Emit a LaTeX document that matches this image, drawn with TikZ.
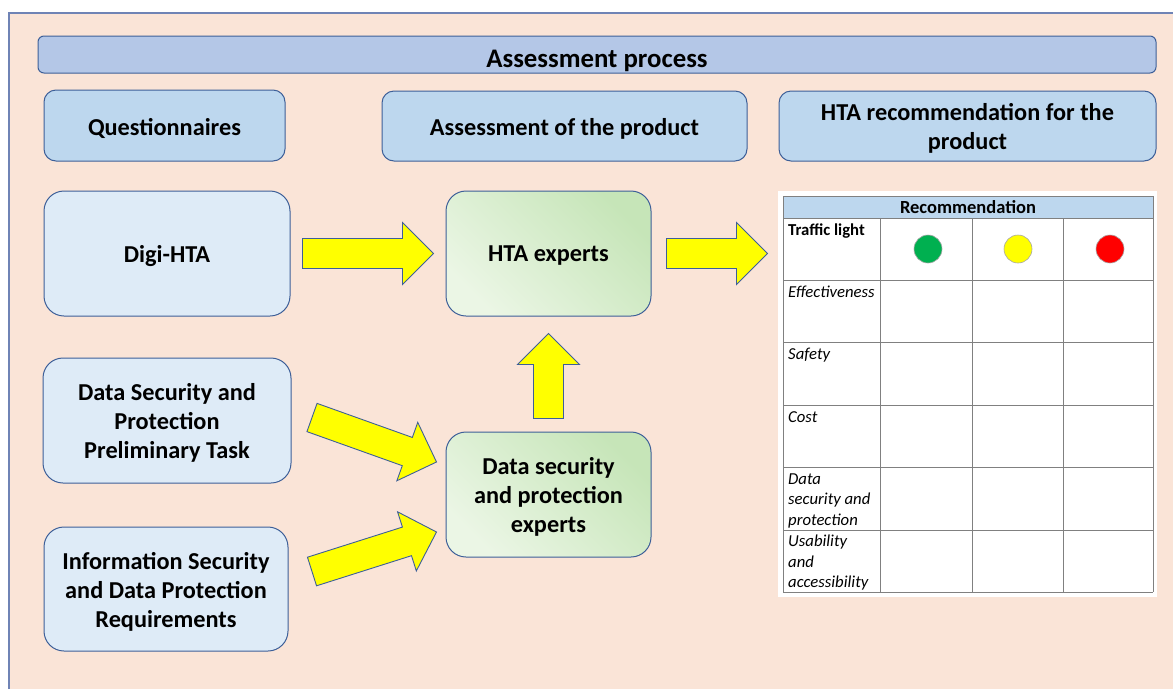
\documentclass[tikz,border=0pt]{standalone}
\usepackage{fontspec}
\setmainfont{Carlito}
\usetikzlibrary{calc}
\definecolor{panel}{HTML}{FAE4D7}
\definecolor{panelline}{HTML}{6F83B5}
\definecolor{titlefill}{HTML}{B4C7E7}
\definecolor{headfill}{HTML}{BDD7EE}
\definecolor{srcfill}{HTML}{DEEBF7}
\definecolor{boxline}{HTML}{3D5F98}
\definecolor{greenlight}{HTML}{EBF6E5}
\definecolor{greendark}{HTML}{C6E5B8}
\definecolor{arrowfill}{HTML}{FFFF00}
\definecolor{gridline}{HTML}{808080}
\definecolor{tgreen}{HTML}{00B050}
\definecolor{tyellow}{HTML}{FFFF00}
\definecolor{tred}{HTML}{FF0000}

\tikzset{
  box/.style={draw=boxline, line width=1pt, inner sep=0pt},
  boxtext/.style={inner sep=0pt, align=center, yshift=-2.5pt,
    font=\fontsize{24.3}{29}\selectfont\bfseries},
  titletext/.style={boxtext, yshift=-3.5pt, font=\fontsize{26.8}{31}\selectfont\bfseries},
  titlebox/.style={box, fill=titlefill, rounded corners=6pt},
  headbox/.style={box, fill=headfill, rounded corners=12pt},
  srcbox/.style={box, fill=srcfill, rounded corners=20pt},
  expbox/.style={box, rounded corners=20pt, top color=greendark,
    bottom color=greenlight, shading angle=-45},
  blockarrow/.style={draw=boxline, fill=arrowfill, line width=0.9pt, line join=miter},
  gridl/.style={draw=gridline, line width=1pt},
  rowlabel/.style={anchor=base west, inner sep=0pt, align=left,
    font=\fontsize{16.7}{20.4}\selectfont\itshape},
  lamp/.style={circle, minimum size=28pt, inner sep=0pt, draw=gray!70, line width=0.6pt},
}

% block arrow from coordinate #1 (tail centre) to coordinate #2 (tip)
\newcommand{\BlockArr}[2]{%
  \coordinate (hb) at ($(#2)!31pt!(#1)$);
  \draw[blockarrow] ($(#1)!15pt!90:(#2)$) -- ($(hb)!15pt!90:(#2)$)
    -- ($(hb)!31pt!90:(#2)$) -- (#2) -- ($(hb)!31pt!-90:(#2)$)
    -- ($(hb)!15pt!-90:(#2)$) -- ($(#1)!15pt!-90:(#2)$) -- cycle;
}

\begin{document}
\begin{tikzpicture}[x=1pt, y=-1pt]
\useasboundingbox (0,0) rectangle (1173,689);
\fill[white] (0,0) rectangle (1173,689);
% panel
\fill[panel] (9,13) rectangle (1173,689);
\draw[panelline, line width=1.2pt] (9,689) -- (9,13) -- (1173,13);

% header boxes
\node[titlebox, minimum width=1118pt, minimum height=37pt,
  label={[titletext, name=titlet]center:Assessment process}] (title) at (597,54.5) {};
\node[headbox, minimum width=241pt, minimum height=71pt,
  label={[boxtext, name=questt]center:Questionnaires}] (quest) at (164.5,125.5) {};
\node[headbox, minimum width=365pt, minimum height=70pt,
  label={[boxtext, name=assesst]center:Assessment of the product}] (assess) at (564.5,126) {};
\node[headbox, minimum width=377pt, minimum height=70pt,
  label={[boxtext, name=hrect]center:{HTA recommendation for the\\product}}] (hrec) at (967.5,126) {};

% source boxes
\node[srcbox, minimum width=246pt, minimum height=125pt,
  label={[boxtext, name=digit]center:Digi-HTA}] (digi) at (167,253.5) {};
\node[srcbox, minimum width=248pt, minimum height=125pt,
  label={[boxtext, name=prelimt]center:{Data Security and\\Protection\\Preliminary Task}}] (prelim) at (167,420.5) {};
\node[srcbox, minimum width=244pt, minimum height=124pt,
  label={[boxtext, name=infosect]center:{Information Security\\and Data Protection\\Requirements}}] (infosec) at (166,589) {};

% expert boxes
\node[expbox, minimum width=205pt, minimum height=125pt,
  label={[boxtext, name=htaexpt]center:HTA experts}] (htaexp) at (548.5,253.5) {};
\node[expbox, minimum width=205pt, minimum height=125pt,
  label={[boxtext, name=dsexpt]center:{Data security\\and protection\\experts}}] (dsexp) at (548.5,494.5) {};

% arrow coordinates
\coordinate (a1s) at ($(digi.east)+(12,0)$);
\coordinate (a1e) at ($(htaexp.west)+(-12,0)$);
\coordinate (a2s) at ($(htaexp.east)+(15,0)$);
\coordinate (a2e) at ($(htaexp.east)+(116,0)$);
\coordinate (a3s) at ($(prelim.east)+(20.5,-3)$);
\coordinate (a3e) at ($(dsexp.west)+(-9,-32.5)$);
\coordinate (a4s) at ($(infosec.east)+(23.5,-17.5)$);
\coordinate (a4e) at ($(dsexp.west)+(-9,37.5)$);
\coordinate (a5s) at ($(dsexp.north)+(0,-13)$);
\coordinate (a5e) at ($(htaexp.south)+(0,17)$);
\BlockArr{a1s}{a1e}
\BlockArr{a2s}{a2e}
\BlockArr{a3s}{a3e}
\BlockArr{a4s}{a4e}
\BlockArr{a5s}{a5e}

% recommendation table
\fill[white] (778,191) rectangle (1157,597);
\fill[headfill] (783,196) rectangle (1153,218);
\foreach \yy in {196,218,280.4,342.8,405.2,467.6,530,592.4}
  \draw[gridl] (783,\yy) -- (1153,\yy);
\foreach \xx in {783,1153}
  \draw[gridl] (\xx,196) -- (\xx,592.4);
\foreach \xx in {880,972,1063}
  \draw[gridl] (\xx,218) -- (\xx,592.4);
\node[inner sep=0pt, font=\fontsize{18.5}{22}\selectfont\bfseries] (rechead) at (968,207) {Recommendation};
\node[rowlabel, font=\fontsize{16.7}{20.4}\selectfont\bfseries] (r0) at (788,235) {Traffic light};
\node[lamp, fill=tgreen] (lg) at (928,249) {};
\node[lamp, fill=tyellow] (ly) at (1018,249) {};
\node[lamp, fill=tred] (lr) at (1110,249) {};
\node[rowlabel] (r1) at (788,297.2) {Effectiveness};
\node[rowlabel] (r2) at (788,359.6) {Safety};
\node[rowlabel] (r3) at (788,422) {Cost};
\node[rowlabel] (r4) at (788,525.2) {Data\\security and\\protection};
\node[rowlabel] (r5) at (788,587.6) {Usability\\and\\accessibility};
\end{tikzpicture}
\end{document}
